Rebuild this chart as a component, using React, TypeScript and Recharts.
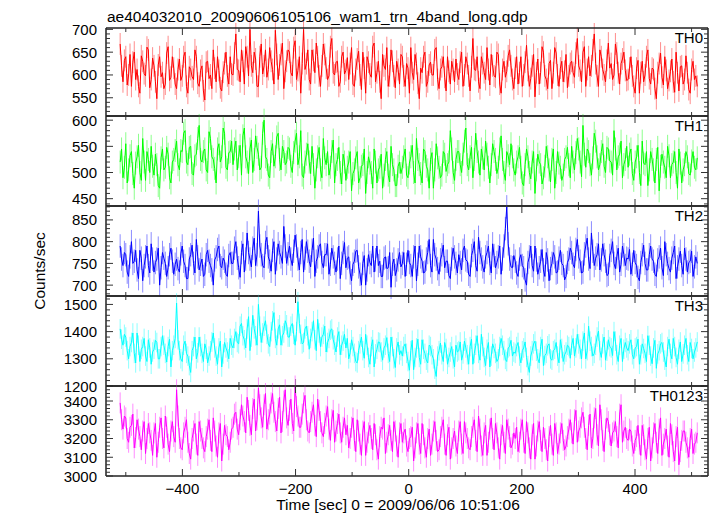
import { LineChart, Line, XAxis, YAxis, ErrorBar } from "recharts";

const FONT = '"Liberation Sans", Arial, Helvetica, sans-serif';

const TITLE = "ae404032010_20090606105106_wam1_trn_4band_long.qdp";
const X_TITLE = "Time [sec] 0 = 2009/06/06 10:51:06";
const Y_TITLE = "Counts/sec";

// time range covered by the bins (sec)
const T_FIRST = -510;
const T_LAST = 510;
const X_DOMAIN = [-535, 529];
const X_MAJOR = [-400, -200, 0, 200, 400];
const X_MINOR = [-500, -300, -100, 100, 300, 500];

// rates, ~2.5 s apart
const TH0 = [
  668, 620, 585, 632, 640, 578, 600, 645, 575, 628, 650, 590, 612, 575, 560, 642, 630, 603, 598, 661, 655, 572, 590, 637, 620, 585, 548, 622, 640, 596, 605, 570, 580, 648, 662, 588, 595, 640, 615, 580,
  570, 612, 635, 588, 598, 640, 650, 575, 560, 618, 612, 596, 590, 655, 640, 582, 575, 610, 620, 565, 545, 628, 630, 592, 600, 570, 655, 615, 585, 640, 610, 572, 565, 606, 625, 650, 598, 580, 640, 602,
  600, 648, 690, 612, 610, 585, 655, 630, 580, 662, 640, 598, 700, 620, 605, 650, 635, 575, 575, 640, 668, 602, 620, 655, 595, 612, 660, 630, 612, 580, 698, 645, 590, 622, 645, 670, 570, 608, 630, 655,
  650, 605, 598, 660, 675, 590, 610, 640, 560, 625, 700, 612, 625, 655, 590, 580, 655, 632, 605, 670, 640, 598, 575, 620, 668, 645, 615, 590, 598, 662, 680, 605, 600, 628, 630, 575, 585, 640, 650, 602,
  610, 638, 590, 625, 660, 580, 575, 612, 635, 652, 600, 568, 650, 615, 560, 640, 628, 602, 595, 662, 670, 585, 605, 630, 585, 548, 645, 620, 612, 660, 575, 598, 655, 630, 598, 572, 630, 612, 580, 645,
  640, 598, 575, 625, 615, 560, 660, 605, 590, 645, 625, 582, 548, 615, 605, 640, 650, 575, 585, 622, 628, 600, 600, 655, 660, 590, 570, 612, 618, 640, 595, 565, 640, 608, 580, 630, 612, 585, 635, 602,
  590, 628, 650, 575, 600, 640, 625, 598, 565, 618, 680, 612, 610, 640, 585, 570, 640, 625, 605, 590, 660, 612, 578, 645, 620, 598, 595, 650, 645, 580, 560, 612, 630, 595, 608, 642, 655, 620, 590, 570,
  615, 640, 580, 605, 640, 575, 600, 628, 665, 610, 575, 592, 620, 645, 552, 605, 635, 580, 605, 662, 650, 598, 590, 570, 625, 632, 570, 605, 660, 648, 600, 575, 615, 630, 585, 608, 645, 572, 598, 625,
  630, 605, 595, 648, 680, 620, 610, 585, 650, 662, 575, 612, 640, 598, 620, 655, 690, 625, 598, 575, 655, 640, 612, 600, 585, 632, 670, 615, 625, 590, 600, 668, 648, 605, 580, 625, 635, 650, 610, 588,
  590, 615, 640, 598, 575, 560, 615, 632, 560, 605, 630, 585, 600, 640, 655, 592, 580, 615, 612, 570, 548, 605, 625, 648, 595, 578, 640, 610, 570, 588, 608, 635, 585, 562, 650, 605, 565, 618, 620, 580,
  590, 642, 605, 568, 560, 612, 630, 590, 598, 575,
];

const TH1 = [
  520, 545, 490, 510, 555, 480, 505, 532, 540, 498, 470, 518, 530, 552, 500, 485, 565, 520, 485, 540, 525, 500, 550, 512, 495, 535, 515, 475, 470, 528, 545, 505, 510, 548, 535, 490, 480, 520, 525, 542,
  560, 515, 505, 542, 540, 575, 580, 520, 515, 548, 550, 498, 495, 532, 535, 565, 590, 525, 520, 540, 545, 505, 500, 578, 565, 530, 525, 508, 480, 545, 555, 520, 530, 585, 575, 510, 505, 538, 540, 560,
  515, 545, 560, 505, 530, 552, 495, 570, 585, 530, 520, 498, 545, 562, 500, 525, 570, 548, 535, 505, 510, 575, 600, 530, 525, 495, 490, 540, 555, 512, 530, 568, 575, 525, 505, 550, 540, 515, 520, 548,
  545, 512, 500, 538, 560, 575, 515, 530, 580, 495, 490, 520, 535, 555, 520, 498, 550, 515, 470, 505, 530, 548, 505, 490, 565, 528, 515, 540, 495, 510, 540, 562, 480, 515, 525, 548, 500, 478, 535, 520,
  485, 510, 520, 540, 465, 498, 505, 528, 540, 480, 490, 512, 515, 545, 460, 500, 530, 518, 500, 470, 545, 520, 480, 505, 510, 535, 470, 495, 525, 540, 495, 482, 550, 515, 505, 475, 475, 512, 520, 498,
  510, 530, 545, 495, 490, 518, 530, 552, 500, 480, 565, 525, 515, 498, 480, 545, 540, 512, 505, 470, 525, 538, 470, 505, 555, 528, 510, 490, 495, 540, 535, 502, 515, 520, 580, 545, 500, 485, 525, 540,
  540, 515, 500, 535, 560, 585, 515, 505, 530, 548, 490, 525, 575, 540, 520, 495, 545, 528, 505, 560, 535, 510, 480, 515, 555, 540, 525, 498, 510, 545, 570, 525, 500, 485, 540, 532, 515, 555, 530, 505,
  495, 520, 530, 548, 510, 480, 475, 515, 545, 530, 500, 488, 520, 540, 460, 505, 535, 520, 515, 478, 490, 512, 550, 530, 505, 482, 525, 545, 470, 500, 540, 518, 510, 485, 495, 525, 530, 548, 515, 490,
  550, 520, 505, 538, 565, 545, 520, 492, 590, 535, 510, 545, 540, 515, 495, 528, 575, 560, 530, 505, 515, 540, 555, 512, 500, 548, 545, 522, 520, 495, 580, 545, 505, 530, 535, 560, 490, 515, 525, 550,
  510, 535, 545, 498, 485, 520, 530, 552, 500, 475, 560, 518, 515, 540, 475, 505, 540, 525, 505, 480, 525, 548, 465, 512, 535, 520, 510, 490, 550, 532, 490, 515, 520, 540, 500, 470, 545, 518, 480, 505,
  515, 540, 530, 498, 495, 522, 540, 510, 505, 528,
];

const TH2 = [
  790, 760, 745, 775, 770, 730, 720, 765, 800, 750, 755, 780, 735, 715, 780, 762, 710, 745, 765, 790, 745, 728, 795, 760, 730, 752, 760, 785, 700, 740, 775, 762, 750, 720, 740, 770, 785, 755, 725, 748,
  760, 738, 730, 772, 790, 755, 745, 715, 715, 760, 770, 792, 750, 728, 805, 765, 735, 748, 760, 720, 725, 770, 780, 755, 745, 735, 700, 758, 765, 782, 790, 745, 740, 762, 755, 725, 720, 768, 775, 750,
  750, 785, 800, 762, 740, 718, 775, 795, 730, 760, 820, 775, 760, 742, 785, 808, 745, 770, 870, 790, 770, 745, 740, 798, 810, 765, 755, 732, 780, 800, 725, 760, 795, 775, 765, 750, 835, 790, 750, 772,
  790, 760, 745, 778, 815, 790, 760, 735, 775, 805, 730, 762, 800, 778, 755, 742, 780, 808, 720, 755, 765, 790, 795, 752, 740, 770, 770, 795, 725, 748, 785, 765, 750, 730, 760, 790, 715, 750, 775, 798,
  740, 762, 765, 728, 710, 748, 755, 778, 780, 742, 725, 700, 750, 768, 700, 735, 770, 752, 745, 790, 730, 758, 790, 745, 755, 720, 720, 762, 765, 738, 740, 775, 695, 748, 760, 722, 735, 758, 775, 742,
  750, 775, 720, 748, 780, 752, 745, 720, 765, 790, 710, 748, 790, 765, 755, 728, 730, 760, 775, 805, 745, 730, 805, 770, 760, 738, 725, 758, 770, 792, 740, 755, 755, 722, 715, 760, 785, 765, 750, 728,
  770, 752, 735, 780, 790, 758, 755, 725, 720, 768, 780, 800, 745, 732, 810, 775, 760, 742, 730, 765, 775, 790, 750, 728, 795, 768, 740, 752, 765, 790, 725, 760, 790, 830, 880, 795, 760, 742, 740, 768,
  755, 728, 720, 760, 770, 745, 740, 712, 700, 752, 765, 790, 745, 732, 790, 758, 725, 740, 755, 782, 735, 720, 775, 758, 710, 738, 750, 775, 765, 728, 730, 762, 780, 750, 745, 712, 720, 752, 760, 785,
  775, 748, 740, 782, 805, 765, 755, 728, 730, 772, 790, 808, 760, 738, 820, 778, 745, 762, 770, 795, 735, 758, 795, 770, 755, 722, 725, 768, 780, 800, 750, 738, 765, 785, 730, 748, 790, 770, 745, 762,
  760, 782, 725, 748, 780, 752, 745, 718, 710, 752, 770, 792, 750, 735, 735, 770, 790, 760, 755, 725, 720, 758, 765, 785, 740, 722, 800, 770, 750, 738, 730, 762, 775, 790, 715, 742, 760, 778, 745, 725,
  785, 760, 730, 752, 755, 778, 720, 742, 765, 750,
];

const TH3 = [
  1410, 1372, 1350, 1390, 1380, 1330, 1300, 1345, 1360, 1395, 1320, 1285, 1395, 1350, 1290, 1335, 1345, 1375, 1310, 1290, 1370, 1340, 1280, 1325, 1335, 1368, 1360, 1300, 1300, 1345, 1385, 1350, 1320, 1288, 1345, 1372, 1270, 1330, 1350, 1375,
  1505, 1370, 1330, 1300, 1290, 1350, 1365, 1320, 1310, 1275, 1250, 1330, 1345, 1380, 1300, 1322, 1380, 1345, 1320, 1290, 1355, 1335, 1285, 1310, 1330, 1362, 1395, 1340, 1310, 1280, 1340, 1365, 1270, 1318, 1360, 1340, 1325, 1300, 1375, 1350,
  1340, 1375, 1400, 1360, 1355, 1420, 1430, 1385, 1370, 1340, 1410, 1455, 1330, 1380, 1460, 1410, 1385, 1350, 1500, 1420, 1360, 1395, 1420, 1440, 1390, 1355, 1345, 1400, 1440, 1470, 1375, 1350, 1410, 1425, 1350, 1385, 1395, 1440, 1425, 1380,
  1380, 1420, 1430, 1390, 1350, 1400, 1510, 1430, 1390, 1355, 1360, 1410, 1420, 1385, 1335, 1375, 1400, 1440, 1370, 1330, 1445, 1395, 1345, 1380, 1390, 1420, 1325, 1360, 1375, 1405, 1410, 1370, 1350, 1325, 1380, 1400, 1315, 1350, 1365, 1390,
  1340, 1375, 1300, 1322, 1370, 1345, 1320, 1290, 1285, 1330, 1355, 1380, 1330, 1302, 1390, 1350, 1305, 1280, 1345, 1370, 1270, 1318, 1335, 1362, 1360, 1325, 1295, 1340, 1350, 1378, 1320, 1290, 1380, 1345, 1300, 1268, 1340, 1362, 1315, 1330,
  1310, 1345, 1355, 1320, 1290, 1258, 1330, 1368, 1260, 1305, 1340, 1372, 1305, 1280, 1370, 1335, 1320, 1295, 1285, 1350, 1345, 1315, 1300, 1262, 1235, 1310, 1330, 1358, 1315, 1290, 1360, 1338, 1280, 1305, 1325, 1345, 1300, 1270, 1350, 1325,
  1330, 1362, 1295, 1318, 1365, 1340, 1315, 1280, 1345, 1372, 1280, 1320, 1350, 1385, 1320, 1295, 1390, 1345, 1305, 1275, 1335, 1360, 1270, 1310, 1355, 1338, 1320, 1290, 1300, 1345, 1375, 1350, 1330, 1298, 1290, 1340, 1345, 1368, 1310, 1325,
  1320, 1345, 1360, 1310, 1285, 1330, 1340, 1362, 1305, 1275, 1250, 1310, 1330, 1355, 1365, 1328, 1300, 1285, 1345, 1372, 1275, 1312, 1320, 1348, 1355, 1300, 1295, 1330, 1335, 1360, 1310, 1285, 1370, 1338, 1290, 1315, 1325, 1350, 1345, 1302,
  1350, 1375, 1310, 1340, 1390, 1355, 1335, 1300, 1365, 1395, 1300, 1330, 1420, 1365, 1345, 1310, 1320, 1350, 1380, 1402, 1330, 1305, 1355, 1380, 1295, 1328, 1370, 1345, 1340, 1312, 1400, 1365, 1315, 1290, 1350, 1375, 1290, 1335, 1360, 1340,
  1330, 1355, 1370, 1315, 1300, 1340, 1345, 1372, 1280, 1315, 1355, 1338, 1320, 1290, 1385, 1350, 1310, 1282, 1340, 1368, 1265, 1318, 1330, 1355, 1360, 1325, 1295, 1270, 1345, 1372, 1320, 1300, 1375, 1345, 1305, 1280, 1335, 1362, 1290, 1318,
  1350, 1375, 1315, 1290, 1360, 1338, 1300, 1325, 1340, 1362,
];

const TH0123 = [
  3390, 3300, 3250, 3320, 3310, 3200, 3180, 3260, 3270, 3330, 3150, 3205, 3300, 3250, 3210, 3140, 3240, 3290, 3120, 3200, 3280, 3230, 3190, 3110, 3230, 3280, 3100, 3180, 3260, 3310, 3200, 3150, 3320, 3260, 3170, 3130, 3240, 3290, 3210, 3180,
  3460, 3320, 3200, 3150, 3140, 3230, 3260, 3300, 3180, 3120, 3090, 3200, 3240, 3280, 3170, 3110, 3290, 3240, 3200, 3150, 3130, 3210, 3250, 3300, 3190, 3130, 3310, 3240, 3160, 3100, 3230, 3280, 3080, 3170, 3270, 3220, 3210, 3140, 3180, 3250,
  3260, 3330, 3340, 3250, 3220, 3300, 3380, 3320, 3290, 3230, 3420, 3350, 3270, 3220, 3360, 3410, 3240, 3300, 3470, 3380, 3310, 3260, 3380, 3440, 3250, 3300, 3330, 3390, 3440, 3340, 3290, 3240, 3360, 3420, 3230, 3290, 3400, 3460, 3310, 3270,
  3350, 3410, 3280, 3240, 3480, 3370, 3320, 3260, 3260, 3330, 3390, 3430, 3300, 3240, 3230, 3290, 3340, 3380, 3270, 3210, 3410, 3350, 3290, 3230, 3210, 3280, 3320, 3370, 3250, 3190, 3300, 3350, 3180, 3240, 3280, 3330, 3230, 3180, 3260, 3310,
  3220, 3270, 3150, 3200, 3260, 3310, 3190, 3130, 3300, 3240, 3170, 3110, 3240, 3290, 3110, 3180, 3230, 3270, 3200, 3140, 3280, 3220, 3140, 3090, 3210, 3260, 3250, 3310, 3120, 3180, 3220, 3270, 3190, 3130, 3290, 3240, 3160, 3100, 3230, 3280,
  3180, 3230, 3250, 3160, 3130, 3200, 3210, 3260, 3080, 3150, 3230, 3280, 3170, 3120, 3280, 3220, 3150, 3100, 3200, 3250, 3110, 3170, 3240, 3290, 3190, 3130, 3140, 3210, 3260, 3300, 3170, 3110, 3220, 3260, 3090, 3150, 3200, 3240, 3160, 3120,
  3240, 3290, 3170, 3120, 3290, 3230, 3200, 3150, 3140, 3210, 3260, 3300, 3190, 3130, 3320, 3250, 3160, 3110, 3230, 3270, 3110, 3180, 3250, 3310, 3200, 3140, 3280, 3230, 3150, 3090, 3220, 3270, 3180, 3120, 3300, 3250, 3210, 3150, 3170, 3230,
  3200, 3260, 3130, 3180, 3250, 3300, 3180, 3120, 3290, 3230, 3150, 3090, 3220, 3280, 3090, 3160, 3240, 3290, 3190, 3130, 3260, 3200, 3140, 3080, 3210, 3270, 3170, 3110, 3280, 3230, 3120, 3170, 3230, 3280, 3190, 3140, 3160, 3210, 3250, 3300,
  3230, 3170, 3300, 3350, 3180, 3240, 3260, 3310, 3340, 3260, 3200, 3140, 3270, 3330, 3150, 3200, 3310, 3360, 3220, 3160, 3380, 3300, 3190, 3130, 3250, 3310, 3290, 3220, 3160, 3230, 3240, 3290, 3210, 3150, 3330, 3380, 3180, 3240, 3260, 3200,
  3190, 3250, 3240, 3160, 3120, 3190, 3210, 3270, 3170, 3110, 3270, 3220, 3140, 3090, 3200, 3260, 3080, 3150, 3230, 3280, 3180, 3120, 3250, 3310, 3110, 3170, 3200, 3250, 3160, 3100, 3280, 3220, 3130, 3080, 3210, 3260, 3060, 3130, 3190, 3240,
  3240, 3180, 3150, 3100, 3200, 3250, 3120, 3170, 3180, 3230,
];

// typical 1-sigma error on each band's rate (counts/sec)
const RATE_ERRORS = [24, 22, 27, 36, 56];

const PANELS = [
  { name: "TH0", values: TH0, err: RATE_ERRORS[0], color: "#ff0000", light: "#ff8c8c", domain: [510, 703], major: [550, 600, 650, 700], minor: 10 },
  { name: "TH1", values: TH1, err: RATE_ERRORS[1], color: "#00ff00", light: "#8cff8c", domain: [436, 608], major: [450, 500, 550, 600], minor: 10 },
  { name: "TH2", values: TH2, err: RATE_ERRORS[2], color: "#0000ff", light: "#8c8cff", domain: [675, 882], major: [700, 750, 800, 850], minor: 10 },
  { name: "TH3", values: TH3, err: RATE_ERRORS[3], color: "#00ffff", light: "#8cffff", domain: [1200, 1531], major: [1200, 1300, 1400, 1500], minor: 20 },
  { name: "TH0123", values: TH0123, err: RATE_ERRORS[4], color: "#ff00ff", light: "#ff8cff", domain: [3000, 3480], major: [3000, 3100, 3200, 3300, 3400], minor: 20 },
];

// layout
const W = 717;
const H = 516;
const LEFT = 106;
const RIGHT = 708;
const BOUNDS = [28, 116, 206, 296, 386, 476];
const PAD = 20;
const MAJ = 7;
const MIN = 4;
const FRAME = { stroke: "#222", strokeWidth: 1.5 };
const TICK_COLOR = "#333";

const fmt = (v: number) => (v < 0 ? "\u2212" + Math.abs(v) : String(v));

function stepTicks(lo: number, hi: number, step: number) {
  const out: number[] = [];
  for (let v = Math.ceil(lo / step) * step; v <= hi; v += step) out.push(v);
  return out;
}

function XTick(props: any) {
  const { x, y, payload, dir, showLabel } = props;
  const major = X_MAJOR.includes(payload.value);
  const len = major ? MAJ : MIN;
  return (
    <g>
      <line x1={x} x2={x} y1={y} y2={y + dir * len} stroke={TICK_COLOR} strokeWidth={1} />
      {showLabel && major && (
        <text x={x} y={y + 18} textAnchor="middle" fontSize={15} fontFamily={FONT} fill="#000">
          {fmt(payload.value)}
        </text>
      )}
    </g>
  );
}

function YTick(props: any) {
  const { x, y, payload, dir, major, showLabel } = props;
  const isMajor = major.includes(payload.value);
  const len = isMajor ? MAJ : MIN;
  return (
    <g>
      <line x1={x} x2={x + dir * len} y1={y} y2={y} stroke={TICK_COLOR} strokeWidth={1} />
      {showLabel && isMajor && (
        <text x={x - 9} y={y + 5.5} textAnchor="end" fontSize={15} fontFamily={FONT} fill="#000">
          {payload.value}
        </text>
      )}
    </g>
  );
}

function Panel({ p, i }: { p: (typeof PANELS)[number]; i: number }) {
  const top = BOUNDS[i];
  const bottom = BOUNDS[i + 1];
  const last = i === PANELS.length - 1;
  const padBottom = last ? 32 : PAD;
  const n = p.values.length;
  const data = p.values.map((v, k) => ({ t: T_FIRST + (k * (T_LAST - T_FIRST)) / (n - 1), v, e: p.err }));
  const xTicks = [...X_MINOR, ...X_MAJOR].sort((a, b) => a - b);
  const yTicks = stepTicks(p.domain[0], p.domain[1], p.minor);
  const xCommon = {
    dataKey: "t",
    type: "number" as const,
    domain: X_DOMAIN,
    allowDataOverflow: true,
    ticks: xTicks,
    interval: 0,
    height: 1,
    tickSize: 0,
    tickMargin: 0,
    tickLine: false,
    axisLine: FRAME,
  };
  const yCommon = {
    type: "number" as const,
    domain: p.domain,
    allowDataOverflow: true,
    ticks: yTicks,
    interval: 0,
    width: 1,
    tickSize: 0,
    tickMargin: 0,
    tickLine: false,
    axisLine: FRAME,
  };
  return (
    <div style={{ position: "absolute", left: 0, top: top - PAD }}>
      <LineChart
        width={W}
        height={bottom - top + PAD + padBottom}
        data={data}
        margin={{ top: PAD - 1, bottom: padBottom - 1, left: LEFT - 1, right: W - RIGHT - 1 }}
      >
        <XAxis xAxisId="b" orientation="bottom" {...xCommon}
          tick={(tp: any) => <XTick {...tp} dir={-1} showLabel={last} />} />
        <XAxis xAxisId="t" orientation="top" {...xCommon}
          tick={(tp: any) => <XTick {...tp} dir={1} showLabel={false} />} />
        <YAxis yAxisId="l" orientation="left" {...yCommon}
          tick={(tp: any) => <YTick {...tp} dir={1} major={p.major} showLabel />} />
        <YAxis yAxisId="r" orientation="right" {...yCommon}
          tick={(tp: any) => <YTick {...tp} dir={-1} major={p.major} showLabel={false} />} />
        {/* error bars only, drawn under the rate curve */}
        <Line
          xAxisId="b"
          yAxisId="l"
          type="linear"
          dataKey="v"
          stroke="none"
          strokeOpacity={0}
          dot={false}
          activeDot={false}
          isAnimationActive={false}
        >
          <ErrorBar dataKey="e" direction="y" width={0} stroke={p.light} strokeWidth={1} isAnimationActive={false} />
        </Line>
        <Line
          xAxisId="b"
          yAxisId="l"
          type="linear"
          dataKey="v"
          stroke={p.color}
          strokeWidth={1}
          dot={false}
          isAnimationActive={false}
        />
      </LineChart>
    </div>
  );
}

export default function App() {
  return (
    <div style={{ position: "absolute", left: 0, top: 0, width: W, height: H, background: "#fff", fontFamily: FONT }}>
      {PANELS.map((p, i) => (
        <Panel key={p.name} p={p} i={i} />
      ))}
      <svg width={W} height={H} style={{ position: "absolute", left: 0, top: 0, pointerEvents: "none" }}>
        <text x={107} y={22} fontSize={15.5} fontFamily={FONT} fill="#000">{TITLE}</text>
        {PANELS.map((p, i) => (
          <text key={p.name} x={703} y={BOUNDS[i] + 15} textAnchor="end" fontSize={15} fontFamily={FONT} fill="#000">
            {p.name}
          </text>
        ))}
        <text x={398} y={510} textAnchor="middle" fontSize={15.5} fontFamily={FONT} fill="#000">{X_TITLE}</text>
        <text transform="translate(45,271) rotate(-90)" textAnchor="middle" fontSize={15.5} fontFamily={FONT} fill="#000">
          {Y_TITLE}
        </text>
      </svg>
    </div>
  );
}
